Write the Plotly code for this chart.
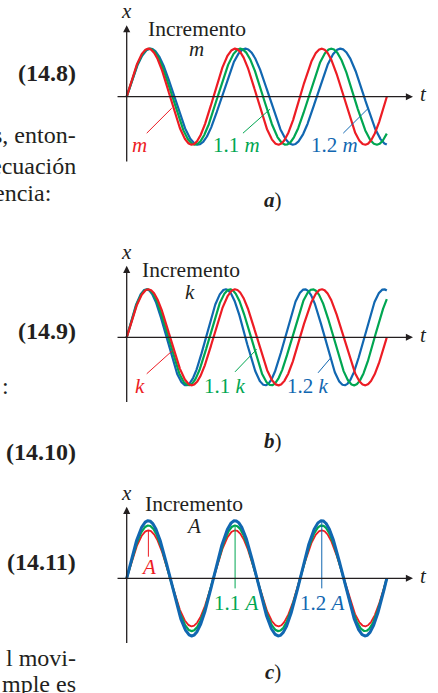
import numpy as np
import plotly.graph_objects as go

# ---------------- data ----------------
series_factors = [1.0, 1.1, 1.2]            # multiplier applied to m, k or A
series_colors = ["#ed1c24", "#00a651", "#1167b1"]
mass_labels = ["<i>m</i>", "1.1 <i>m</i>", "1.2 <i>m</i>"]
spring_labels = ["<i>k</i>", "1.1 <i>k</i>", "1.2 <i>k</i>"]
amp_labels = ["<i>A</i>", "1.1 <i>A</i>", "1.2 <i>A</i>"]
panel_params = ["<i>m</i>", "<i>k</i>", "<i>A</i>"]
panel_captions = ["a", "b", "c"]
base_period = 1.0        # period of the reference oscillator (t units)
base_amplitude = 1.0     # amplitude of the reference oscillator
t_span = 3.0             # time shown, in base periods
side_text = [            # (text, pixel y, pixel right edge) of the cropped page text at left
    ("<b>(14.8)</b>", 73, 78), ("s, enton-", 135, 78), ("ecuación", 166, 78),
    ("encia:", 193, 53),
    ("<b>(14.9)</b>", 331, 78), ("<b>(14.10)</b>", 452, 78), ("<b>(14.11)</b>", 562, 78),
    ("l movi-", 658, 78), ("mple es", 684, 78),
]

# ---------------- layout geometry ----------------
W, H = 438, 693
T0PX, PXT, AMPPX = 126.7, 86.7, 48.0
FONT = "Liberation Serif"
INK = "#231f20"
LBL = 21
panels = [(0, 230, 96.7), (230, 460, 337.3), (460, 693, 578.3)]

fig = go.Figure()
layout = dict(width=W, height=H, margin=dict(l=0, r=0, t=0, b=0),
              paper_bgcolor="white", plot_bgcolor="white", showlegend=False)
annotations, shapes = [], []

t = np.linspace(0, t_span * base_period, 1200)

def ax_ids(i):
    s = "" if i == 0 else str(i + 1)
    return "x" + s, "y" + s, "xaxis" + s, "yaxis" + s

for i, (top, bot, cy) in enumerate(panels):
    xr, yr, xk, yk = ax_ids(i)
    layout[xk] = dict(domain=[0, 1], range=[-T0PX / PXT, (W - T0PX) / PXT],
                      visible=False, anchor=yr, fixedrange=True)
    layout[yk] = dict(domain=[1 - bot / H, 1 - top / H],
                      range=[-(bot - cy) / AMPPX, (cy - top) / AMPPX],
                      visible=False, anchor=xr, fixedrange=True)

    # curves
    if i == 0:   # increasing mass -> longer period
        periods = [base_period * np.sqrt(f) for f in series_factors]
        amps = [base_amplitude] * 3
        order, widths = [2, 1, 0], [2.2, 2.2, 2.2]
    elif i == 1:  # increasing spring constant -> shorter period
        periods = [base_period / np.sqrt(f) for f in series_factors]
        amps = [base_amplitude] * 3
        order, widths = [2, 1, 0], [2.2, 2.2, 2.2]
    else:        # increasing amplitude
        periods = [base_period] * 3
        amps = [base_amplitude * f for f in series_factors]
        order, widths = [0, 1, 2], [1.8, 2.2, 3.0]
    for j in order:
        fig.add_trace(go.Scatter(x=t, y=amps[j] * np.sin(2 * np.pi * t / periods[j]),
                                 mode="lines", xaxis=xr, yaxis=yr, hoverinfo="skip",
                                 line=dict(color=series_colors[j], width=widths[j])))

    # axes with arrows
    for (x0, y0, x1, y1) in [(-0.123, 0, (413 - T0PX) / PXT, 0), (0, -1.38, 0, 1.49)]:
        annotations.append(dict(x=x1, y=y1, ax=x0, ay=y0, xref=xr, yref=yr, axref=xr, ayref=yr,
                                text="", showarrow=True, arrowhead=2, arrowsize=1.1,
                                arrowwidth=1.3, arrowcolor=INK))
    annotations.append(dict(x=0, y=1.78, xref=xr, yref=yr, text="<i>x</i>", showarrow=False,
                            font=dict(family=FONT, size=LBL, color=INK)))
    annotations.append(dict(x=3.42, y=0.05, xref=xr, yref=yr, text="<i>t</i>", showarrow=False,
                            font=dict(family=FONT, size=LBL, color=INK)))

    # "Incremento" + parameter
    inc_pos = [(0.81, 1.41, 0.81, 0.99), (0.74, 1.40, 0.73, 0.94), (0.78, 1.54, 0.77, 1.10)][i]
    annotations.append(dict(x=inc_pos[0], y=inc_pos[1], xref=xr, yref=yr, text="Incremento",
                            showarrow=False, font=dict(family=FONT, size=21.5, color=INK)))
    annotations.append(dict(x=inc_pos[2], y=inc_pos[3], xref=xr, yref=yr, text=panel_params[i],
                            showarrow=False, font=dict(family=FONT, size=LBL, color=INK)))

    # caption
    cap_y = [-2.15, -2.15, -1.95][i]
    annotations.append(dict(x=1.69, y=cap_y, xref=xr, yref=yr,
                            text="<b><i>%s</i></b>)" % panel_captions[i], showarrow=False,
                            font=dict(family=FONT, size=LBL, color=INK)))

    # series labels + leader lines
    if i == 0:
        labels = mass_labels
        lab_pos = [(0.153, -1.0), (1.27, -1.0), (2.40, -1.0)]
        leaders = [(0.231, -0.76, 0.519, -0.24), (1.341, -0.76, 1.653, -0.26),
                   (2.498, -0.76, 2.787, -0.24)]
    elif i == 1:
        labels = spring_labels
        lab_pos = [(0.153, -1.01), (1.134, -1.01), (2.095, -1.01)]
        leaders = [(0.231, -0.76, 0.526, -0.28), (1.249, -0.72, 1.499, -0.25),
                   (2.207, -0.74, 2.357, -0.42)]
    else:
        labels = amp_labels
        lab_pos = [(0.249, 0.23), (1.27, -0.51), (2.26, -0.51)]
        leaders = [(0.25, 1.0, 0.25, 0.45), (1.25, 1.08, 1.25, -0.21),
                   (2.25, 1.17, 2.25, -0.21)]
    for j in range(3):
        annotations.append(dict(x=lab_pos[j][0], y=lab_pos[j][1], xref=xr, yref=yr,
                                text=labels[j], showarrow=False,
                                font=dict(family=FONT, size=LBL, color=series_colors[j])))
        x0, y0, x1, y1 = leaders[j]
        shapes.append(dict(type="line", xref=xr, yref=yr, x0=x0, y0=y0, x1=x1, y1=y1,
                           line=dict(color=series_colors[j], width=1)))

# cropped page text on the left
for txt, py, px in side_text:
    annotations.append(dict(x=px / W, y=1 - py / H, xref="paper", yref="paper", text=txt,
                            xanchor="right", yanchor="middle", showarrow=False,
                            font=dict(family=FONT, size=24, color=INK)))
annotations.append(dict(x=0, y=1 - 386 / H, xref="paper", yref="paper", text=":",
                        xanchor="left", yanchor="middle", showarrow=False,
                        font=dict(family=FONT, size=24, color=INK)))

layout["annotations"] = annotations
layout["shapes"] = shapes
fig.update_layout(**layout)
fig.write_html("out.html", config={"displayModeBar": False},
               post_script="document.body.style.margin='0';document.body.style.overflow='hidden';")
